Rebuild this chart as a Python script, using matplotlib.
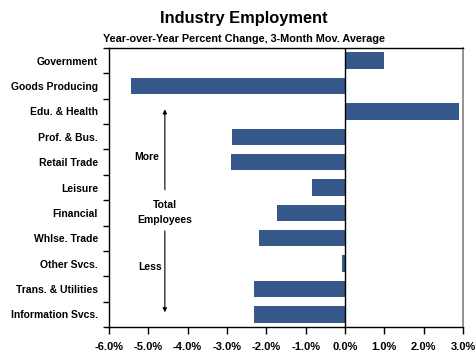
import matplotlib
matplotlib.use('Agg')
import matplotlib.pyplot as plt
import numpy as np

plt.rcParams['font.family'] = ['Liberation Sans', 'DejaVu Sans']
plt.rcParams['font.weight'] = 'bold'

industries = ['Government', 'Goods Producing', 'Edu. & Health', 'Prof. & Bus.', 'Retail Trade',
              'Leisure', 'Financial', 'Whlse. Trade', 'Other Svcs.', 'Trans. & Utilities',
              'Information Svcs.']
changes = [1.0, -5.45, 2.9, -2.88, -2.9, -0.84, -1.74, -2.19, -0.08, -2.32, -2.32]
xticks = [-6, -5, -4, -3, -2, -1, 0, 1, 2, 3]

fig = plt.figure(figsize=(4.75, 3.53), dpi=100)
ax = fig.add_axes([109 / 475, 1 - 327 / 353, 354 / 475, 279 / 353])

pos = np.arange(len(industries))
ax.barh(pos, changes, height=0.65, color='#36588a', zorder=2)
ax.axvline(0, color='black', linewidth=1, zorder=3)

ax.set_xlim(-6, 3)
ax.set_ylim(len(industries) - 0.5, -0.5)
ax.set_xticks(xticks)
ax.set_xticklabels(['%.1f%%' % v for v in xticks], fontsize=8, fontweight='bold')
ax.set_yticks(pos)
ax.set_yticklabels(industries, fontsize=7.5, fontweight='bold')
ax.tick_params(axis='y', length=0, pad=8)
ax.set_yticks(np.arange(len(industries) + 1) - 0.5, minor=True)
ax.tick_params(axis='y', which='minor', length=4, width=1)
ax.tick_params(axis='x', length=5, width=1, pad=6)
for s in ['left', 'bottom', 'top']:
    ax.spines[s].set_linewidth(1)
ax.spines['right'].set_color('#808080')
ax.spines['right'].set_linewidth(1.2)

# annotations
ax.annotate('', xy=(-4.58, 1.81), xytext=(-4.58, 5.2),
            arrowprops=dict(arrowstyle='-|>', color='black', lw=0.8, mutation_scale=6))
ax.annotate('', xy=(-4.58, 10.03), xytext=(-4.58, 6.6),
            arrowprops=dict(arrowstyle='-|>', color='black', lw=0.8, mutation_scale=6))
ax.text(-5.04, 3.78, 'More', ha='center', va='center', fontsize=7.5, fontweight='bold')
ax.text(-4.58, 5.98, 'Total\nEmployees', ha='center', va='center', fontsize=7.5,
        fontweight='bold', linespacing=1.55)
ax.text(-4.96, 8.15, 'Less', ha='center', va='center', fontsize=7.5, fontweight='bold')

fig.text(244 / 475, 1 - 19 / 353, 'Industry Employment', ha='center', va='center',
         fontsize=11.8, fontweight='bold')
fig.text(244 / 475, 1 - 39 / 353, 'Year-over-Year Percent Change, 3-Month Mov. Average',
         ha='center', va='center', fontsize=7.85, fontweight='bold')

fig.savefig('out.png', dpi=100)
